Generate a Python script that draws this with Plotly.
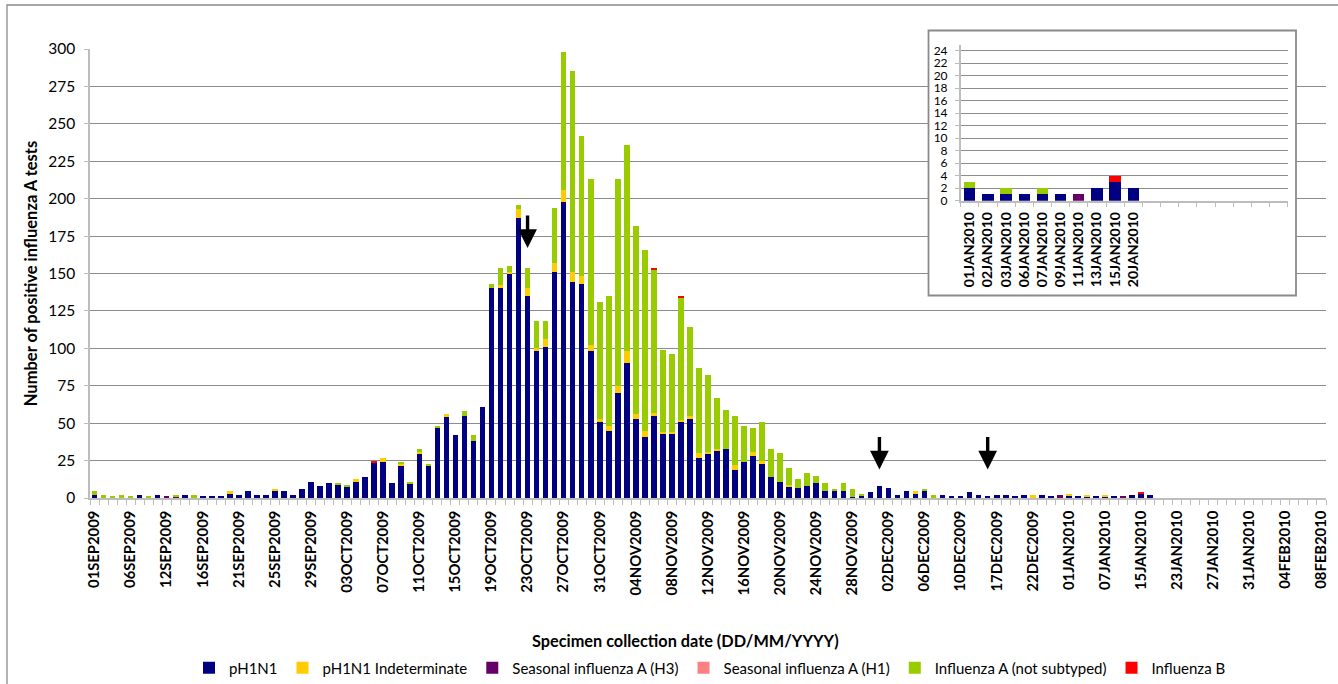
import plotly.graph_objects as go

# ---------------- data (main chart) ----------------
DATES = [
    "01SEP2009", "02SEP2009", "03SEP2009", "04SEP2009", "06SEP2009", "07SEP2009", "08SEP2009", "10SEP2009",
    "12SEP2009", "13SEP2009", "14SEP2009", "15SEP2009", "16SEP2009", "17SEP2009", "18SEP2009", "20SEP2009",
    "21SEP2009", "22SEP2009", "23SEP2009", "24SEP2009", "25SEP2009", "26SEP2009", "27SEP2009", "28SEP2009",
    "29SEP2009", "30SEP2009",
    "01OCT2009", "02OCT2009", "03OCT2009", "04OCT2009", "05OCT2009", "06OCT2009", "07OCT2009", "08OCT2009",
    "09OCT2009", "10OCT2009", "11OCT2009", "12OCT2009", "13OCT2009", "14OCT2009", "15OCT2009", "16OCT2009",
    "17OCT2009", "18OCT2009", "19OCT2009", "20OCT2009", "21OCT2009", "22OCT2009", "23OCT2009", "24OCT2009",
    "25OCT2009", "26OCT2009", "27OCT2009", "28OCT2009", "29OCT2009", "30OCT2009", "31OCT2009",
    "01NOV2009", "02NOV2009", "03NOV2009", "04NOV2009", "05NOV2009", "06NOV2009", "07NOV2009", "08NOV2009",
    "09NOV2009", "10NOV2009", "11NOV2009", "12NOV2009", "13NOV2009", "14NOV2009", "15NOV2009", "16NOV2009",
    "17NOV2009", "18NOV2009", "19NOV2009", "20NOV2009", "21NOV2009", "22NOV2009", "23NOV2009", "24NOV2009",
    "25NOV2009", "26NOV2009", "27NOV2009", "28NOV2009", "29NOV2009", "30NOV2009",
    "01DEC2009", "02DEC2009", "03DEC2009", "04DEC2009", "05DEC2009", "06DEC2009", "07DEC2009", "08DEC2009",
    "09DEC2009", "10DEC2009", "11DEC2009", "14DEC2009", "16DEC2009", "17DEC2009", "18DEC2009", "19DEC2009",
    "21DEC2009", "22DEC2009", "23DEC2009", "29DEC2009", "31DEC2009",
    "01JAN2010", "02JAN2010", "03JAN2010", "06JAN2010", "07JAN2010", "09JAN2010", "11JAN2010", "13JAN2010",
    "15JAN2010", "20JAN2010", "21JAN2010", "22JAN2010", "23JAN2010", "24JAN2010", "25JAN2010", "26JAN2010",
    "27JAN2010", "28JAN2010", "29JAN2010", "30JAN2010", "31JAN2010",
    "01FEB2010", "02FEB2010", "03FEB2010", "04FEB2010", "05FEB2010", "06FEB2010", "07FEB2010", "08FEB2010",
]

PH1N1 = [
    2, 0, 0, 0, 0, 2, 0, 2, 0, 0,
    2, 0, 1, 1, 1, 3, 2, 5, 2, 2,
    5, 5, 2, 6, 11, 8, 10, 9, 8, 11,
    14, 24, 24, 10, 22, 10, 30, 22, 47, 54,
    42, 55, 38, 61, 140, 140, 150, 187, 135, 98,
    101, 151, 198, 144, 143, 98, 51, 45, 70, 90,
    53, 41, 55, 43, 43, 51, 53, 27, 30, 32,
    33, 19, 24, 28, 23, 14, 11, 8, 7, 8,
    10, 5, 5, 5, 1, 2, 4, 8, 7, 2,
    5, 3, 5, 0, 2, 1, 1, 4, 2, 1,
    2, 2, 1, 2, 0, 2, 1, 0, 2, 1,
    1, 1, 1, 1, 0, 2, 3, 2, 0, 0,
    0, 0, 0, 0, 0, 0, 0, 0, 0, 0,
    0, 0, 0, 0, 0, 0, 0,
]
PH1N1_INDET = [
    0, 0, 0, 0, 0, 0, 0, 0, 0, 0,
    0, 0, 0, 0, 0, 2, 0, 0, 0, 0,
    1, 0, 0, 0, 0, 0, 0, 0, 0, 2,
    0, 0, 3, 0, 1, 0, 1, 0, 0, 2,
    0, 0, 0, 0, 0, 2, 1, 6, 5, 2,
    5, 6, 8, 7, 5, 4, 2, 3, 5, 8,
    3, 4, 2, 1, 1, 1, 2, 3, 1, 1,
    0, 3, 0, 3, 2, 0, 0, 1, 0, 0,
    0, 0, 0, 0, 0, 0, 0, 0, 0, 0,
    0, 2, 0, 0, 0, 0, 0, 0, 0, 0,
    0, 0, 0, 0, 2, 0, 0, 0, 1, 0,
    1, 0, 1, 0, 0, 0, 0, 0, 0, 0,
    0, 0, 0, 0, 0, 0, 0, 0, 0, 0,
    0, 0, 0, 0, 0, 0, 0,
]
SEASONAL_H3 = [
    0, 0, 0, 0, 0, 0, 0, 0, 1, 1,
    0, 0, 0, 0, 0, 0, 0, 0, 0, 0,
    0, 0, 0, 0, 0, 0, 0, 0, 0, 0,
    0, 0, 0, 0, 0, 0, 0, 0, 0, 0,
    0, 0, 0, 0, 0, 0, 0, 0, 0, 0,
    0, 0, 0, 0, 0, 0, 0, 0, 0, 0,
    0, 0, 0, 0, 0, 0, 0, 0, 0, 0,
    0, 0, 0, 0, 0, 0, 0, 0, 0, 0,
    0, 0, 0, 0, 0, 0, 0, 0, 0, 0,
    0, 0, 0, 0, 0, 0, 0, 0, 0, 0,
    0, 0, 0, 0, 0, 0, 0, 2, 0, 0,
    0, 0, 0, 0, 1, 0, 0, 0, 0, 0,
    0, 0, 0, 0, 0, 0, 0, 0, 0, 0,
    0, 0, 0, 0, 0, 0, 0,
]
SEASONAL_H1 = [0] * 137
FLU_A_NOT_SUBTYPED = [
    3, 2, 1, 2, 1, 0, 1, 0, 0, 1,
    0, 2, 0, 0, 0, 0, 0, 0, 0, 0,
    0, 0, 0, 0, 0, 0, 0, 1, 1, 0,
    0, 0, 0, 0, 1, 1, 2, 1, 1, 0,
    0, 3, 4, 0, 3, 12, 4, 3, 14, 18,
    12, 37, 92, 134, 94, 111, 78, 87, 138, 138,
    126, 121, 96, 55, 52, 82, 59, 57, 51, 34,
    26, 33, 24, 16, 26, 19, 19, 11, 6, 9,
    5, 5, 1, 5, 5, 1, 0, 0, 0, 0,
    0, 0, 1, 2, 0, 0, 0, 0, 0, 0,
    0, 0, 0, 0, 0, 0, 0, 0, 0, 0,
    0, 0, 0, 0, 0, 0, 0, 0, 0, 0,
    0, 0, 0, 0, 0, 0, 0, 0, 0, 0,
    0, 0, 0, 0, 0, 0, 0,
]
FLU_B = [
    0, 0, 0, 0, 0, 0, 0, 0, 0, 0,
    0, 0, 0, 0, 0, 0, 0, 0, 0, 0,
    0, 0, 0, 0, 0, 0, 0, 0, 0, 0,
    0, 1, 0, 0, 0, 0, 0, 0, 0, 0,
    0, 0, 0, 0, 0, 0, 0, 0, 0, 0,
    0, 0, 0, 0, 0, 0, 0, 0, 0, 0,
    0, 0, 1, 0, 0, 1, 0, 0, 0, 0,
    0, 0, 0, 0, 0, 0, 0, 0, 0, 0,
    0, 0, 0, 0, 0, 0, 0, 0, 0, 0,
    0, 0, 0, 0, 0, 0, 0, 0, 0, 0,
    0, 0, 0, 0, 0, 0, 0, 0, 0, 0,
    0, 0, 0, 0, 0, 0, 1, 0, 0, 0,
    0, 0, 0, 0, 0, 0, 0, 0, 0, 0,
    0, 0, 0, 0, 0, 0, 0,
]

SERIES_NAMES = ["pH1N1", "pH1N1 Indeterminate", "Seasonal influenza A (H3)",
                "Seasonal influenza A (H1)", "Influenza A (not subtyped)", "Influenza B"]
LABEL_EVERY = 4
Y_TICKS = [0, 25, 50, 75, 100, 125, 150, 175, 200, 225, 250, 275, 300]
Y_MAX = 300

# arrows marking dates in the main chart (date, value at arrow tip)
ARROW_DATES = ["23OCT2009", "01DEC2009", "16DEC2009"]
ARROW_TIPS = [167, 19, 19]

# ---------------- data (inset, January 2010) ----------------
INSET_DATES = ["01JAN2010", "02JAN2010", "03JAN2010", "06JAN2010", "07JAN2010",
               "09JAN2010", "11JAN2010", "13JAN2010", "15JAN2010", "20JAN2010"]
INSET_EMPTY_SLOTS = 8
INSET_PH1N1 = [2, 1, 1, 1, 1, 1, 0, 2, 3, 2]
INSET_PH1N1_INDET = [0, 0, 0, 0, 0, 0, 0, 0, 0, 0]
INSET_SEASONAL_H3 = [0, 0, 0, 0, 0, 0, 1, 0, 0, 0]
INSET_SEASONAL_H1 = [0, 0, 0, 0, 0, 0, 0, 0, 0, 0]
INSET_FLU_A_NOT_SUBTYPED = [1, 0, 1, 0, 1, 0, 0, 0, 0, 0]
INSET_FLU_B = [0, 0, 0, 0, 0, 0, 0, 0, 1, 0]
INSET_Y_TICKS = list(range(0, 25, 2))

COLORS = ["#000080", "#FFCC00", "#660066", "#FF8080", "#99CC00", "#FF0000"]

# ---------------- layout geometry (pixels) ----------------
W, H = 1338, 684
ML, MR, MT, MB = 90, 12, 25, 186
PW, PH = W - ML - MR, H - MT - MB
Y0_PX, YTOP_PX = 498, 49
CAT_W = PW / len(DATES)
Y_PER_PX = Y_MAX / (Y0_PX - YTOP_PX)


def fx(px):
    return (px - ML) / PW


def fy(py):
    return (Y0_PX - py) / PH


def cat_pos(px):
    return (px - ML) / CAT_W - 0.5


def val_pos(py):
    return (Y0_PX - py) * Y_PER_PX


FONT = "Lato, 'Liberation Sans', Arial, sans-serif"
GRID = "#8c8c8c"
AXIS = "#bdbdbd"

fig = go.Figure()

main_series = [PH1N1, PH1N1_INDET, SEASONAL_H3, SEASONAL_H1, FLU_A_NOT_SUBTYPED, FLU_B]
for name, vals, col in zip(SERIES_NAMES, main_series, COLORS):
    fig.add_trace(go.Bar(x=DATES, y=vals, name=name, marker=dict(color=col, line=dict(width=0)),
                         xaxis="x", yaxis="y"))

inset_cats = INSET_DATES + ["_%d" % i for i in range(INSET_EMPTY_SLOTS)]
inset_series = [INSET_PH1N1, INSET_PH1N1_INDET, INSET_SEASONAL_H3, INSET_SEASONAL_H1,
                INSET_FLU_A_NOT_SUBTYPED, INSET_FLU_B]
for name, vals, col in zip(SERIES_NAMES, inset_series, COLORS):
    fig.add_trace(go.Bar(x=inset_cats, y=vals + [0] * INSET_EMPTY_SLOTS, name=name,
                         marker=dict(color=col, line=dict(width=0)), showlegend=False,
                         xaxis="x2", yaxis="y2"))

main_ticktext = [d if i % LABEL_EVERY == 0 else "" for i, d in enumerate(DATES)]
inset_ticktext = INSET_DATES + [""] * INSET_EMPTY_SLOTS

annotations = []
for d, tip in zip(ARROW_DATES, ARROW_TIPS):
    annotations.append(dict(x=d, y=tip, xref="x", yref="y", text="", showarrow=True,
                            ax=0, ay=-34, arrowhead=2, arrowsize=1.1, arrowwidth=3.4,
                            arrowcolor="#000000", standoff=0))
annotations.append(dict(text="<b>Specimen collection date (DD/MM/YYYY)</b>", xref="paper", yref="paper",
                        x=fx(685), y=fy(640), showarrow=False, xanchor="center", yanchor="middle",
                        font=dict(family=FONT, size=16.3, color="#000000")))

INSET_BOX = dict(left=928.5, right=1296, top=30.5, bottom=295.5)
shapes = [
    # outer chart-area border
    dict(type="rect", xref="paper", yref="paper", x0=fx(7), x1=fx(1360), y0=fy(720), y1=fy(5),
         line=dict(color="#8a8a8a", width=1.3), fillcolor="rgba(0,0,0,0)", layer="below"),
    # inset chart box: white fill hiding the main gridlines (above grid, below traces)
    dict(type="rect", xref="x", yref="y",
         x0=cat_pos(INSET_BOX["left"]), x1=cat_pos(INSET_BOX["right"]),
         y0=val_pos(INSET_BOX["bottom"]), y1=val_pos(INSET_BOX["top"]),
         line=dict(width=0), fillcolor="#ffffff", layer="between"),
    # inset chart box outline
    dict(type="rect", xref="paper", yref="paper",
         x0=fx(INSET_BOX["left"]), x1=fx(INSET_BOX["right"]),
         y0=fy(INSET_BOX["bottom"]), y1=fy(INSET_BOX["top"]),
         line=dict(color="#8a8a8a", width=1.8), fillcolor="rgba(0,0,0,0)", layer="above"),
]

fig.update_layout(
    width=W, height=H,
    margin=dict(l=ML, r=MR, t=MT, b=MB, pad=0, autoexpand=False),
    paper_bgcolor="#ffffff", plot_bgcolor="rgba(0,0,0,0)",
    barmode="stack", bargap=0.38,
    font=dict(family=FONT, color="#000000"),
    xaxis=dict(domain=[0, 1], anchor="y", type="category", categoryorder="array", categoryarray=DATES,
               range=[-0.5, len(DATES) - 0.5], tickmode="array", tickvals=DATES, ticktext=main_ticktext,
               tickson="boundaries", ticks="outside", ticklen=5, tickcolor=AXIS, tickwidth=1,
               tickangle=-90, tickfont=dict(family=FONT, size=14.8, weight="bold", color="#000000"),
               showline=True, linecolor=AXIS, linewidth=1.5, showgrid=False, zeroline=False,
               ticklabelstandoff=5, automargin=False),
    yaxis=dict(domain=[0, fy(YTOP_PX)], anchor="x", range=[0, Y_MAX], tickmode="array", tickvals=Y_TICKS,
               ticks="outside", ticklen=4, tickcolor=AXIS, showline=True, linecolor=AXIS, linewidth=1.5,
               showgrid=True, gridcolor=GRID, gridwidth=1, zeroline=False,
               tickfont=dict(family=FONT, size=15.5, color="#000000"), ticklabelstandoff=6, automargin=False,
               title=dict(text="<b>Number of positive influenza A tests</b>", standoff=6,
                          font=dict(family=FONT, size=16.5, color="#000000"))),
    xaxis2=dict(domain=[fx(960.7), fx(1287.7)], anchor="y2", type="category", categoryorder="array",
                categoryarray=inset_cats, range=[-0.5, len(inset_cats) - 0.5], tickmode="array",
                tickvals=inset_cats, ticktext=inset_ticktext, tickson="boundaries", ticks="outside",
                ticklen=5, tickcolor=AXIS, tickangle=-90,
                tickfont=dict(family=FONT, size=14, weight="bold", color="#000000"),
                showline=True, linecolor=AXIS, linewidth=1.5, showgrid=False, zeroline=False,
                ticklabelstandoff=4, automargin=False),
    yaxis2=dict(domain=[fy(200.7), fy(44.5)], anchor="x2", range=[0, 25], tickmode="array",
                tickvals=INSET_Y_TICKS, ticks="outside", ticklen=4, tickcolor=AXIS, showline=True,
                linecolor=AXIS, linewidth=1.5, showgrid=True, gridcolor=GRID, gridwidth=1, zeroline=False,
                tickfont=dict(family=FONT, size=12, color="#000000"), ticklabelstandoff=5,
                automargin=False),
    legend=dict(orientation="h", x=fx(710), xanchor="center", y=fy(668), yanchor="middle",
                traceorder="normal", font=dict(family=FONT, size=15, color="#000000"),
                itemwidth=30, bgcolor="rgba(0,0,0,0)"),
    annotations=annotations,
    shapes=shapes,
)

fig.write_html("out.html")
